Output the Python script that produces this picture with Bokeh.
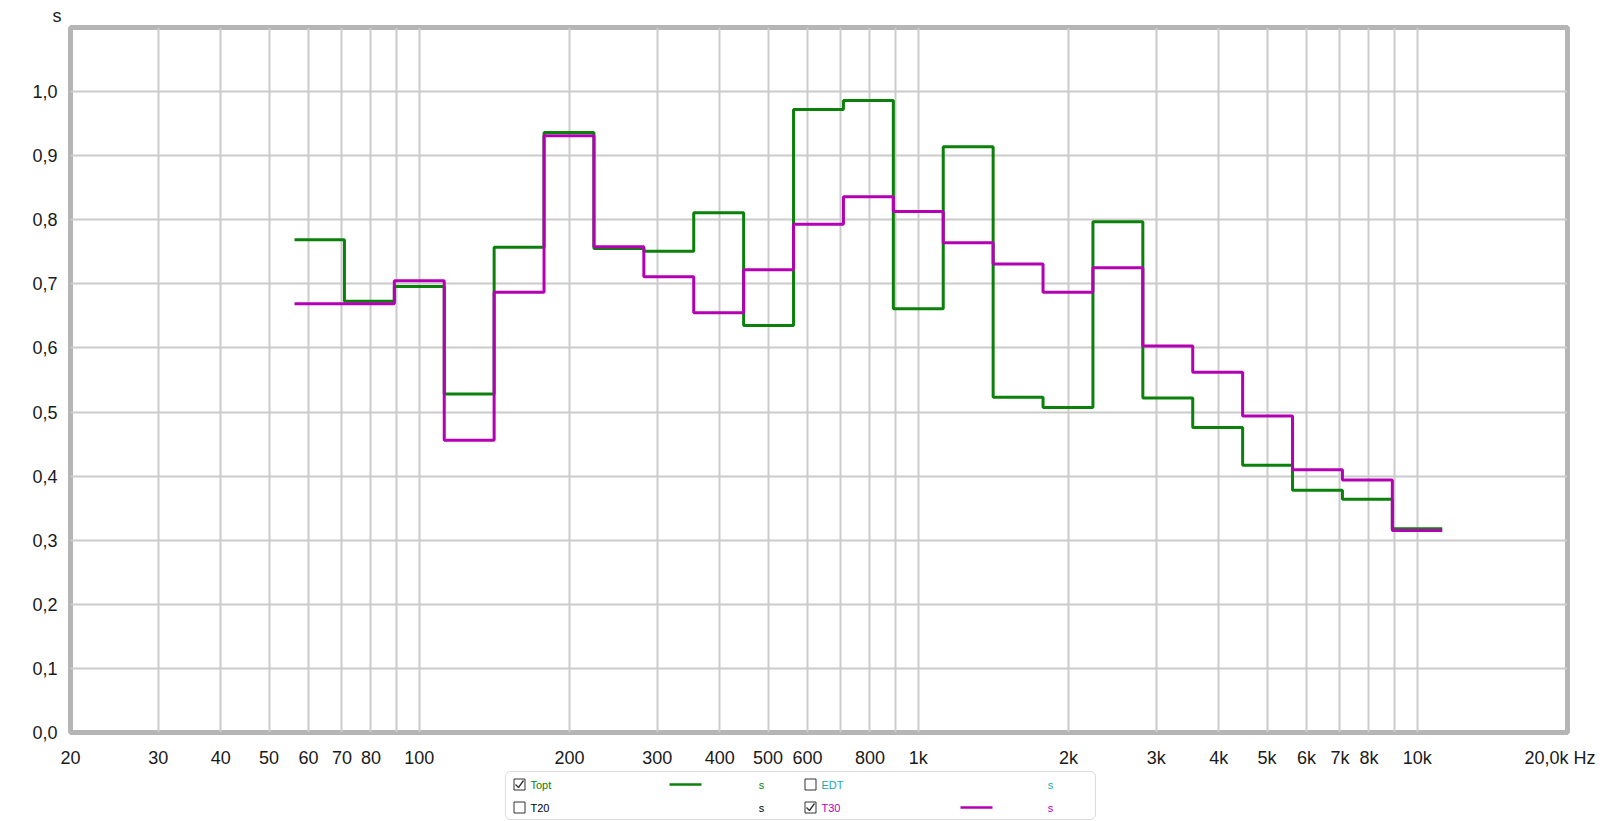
import numpy as np
from bokeh.plotting import figure
from bokeh.models import FixedTicker, Range1d, BoxAnnotation
from bokeh.layouts import column
from bokeh.core.properties import value
from bokeh.embed import file_html
from bokeh.resources import INLINE

# third-octave band centre frequencies (Hz)
band_centers = [63, 80, 100, 125, 160, 200, 250, 315, 400, 500, 630, 800,
                1000, 1250, 1600, 2000, 2500, 3150, 4000, 5000, 6300, 8000, 10000]
# reverberation times (s)
topt = [0.769, 0.673, 0.696, 0.528, 0.757, 0.936, 0.755, 0.751, 0.811, 0.635,
        0.972, 0.986, 0.661, 0.914, 0.523, 0.507, 0.797, 0.522, 0.476, 0.417,
        0.378, 0.364, 0.318]
t30 = [0.669, 0.669, 0.705, 0.456, 0.687, 0.931, 0.758, 0.711, 0.655, 0.722,
       0.793, 0.836, 0.813, 0.764, 0.731, 0.687, 0.725, 0.603, 0.562, 0.494,
       0.410, 0.394, 0.315]

x_grid_freqs = [20, 30, 40, 50, 60, 70, 80, 90, 100, 200, 300, 400, 500, 600, 700, 800, 900,
                1000, 2000, 3000, 4000, 5000, 6000, 7000, 8000, 9000, 10000, 20000]
x_label_freqs = [20, 30, 40, 50, 60, 70, 80, 100, 200, 300, 400, 500, 600, 800,
                 1000, 2000, 3000, 4000, 5000, 6000, 7000, 8000, 10000, 20000]
x_label_texts = ["20", "30", "40", "50", "60", "70", "80", "100", "200", "300", "400", "500",
                 "600", "800", "1k", "2k", "3k", "4k", "5k", "6k", "7k", "8k", "10k",
                 "20,0k Hz" + "\u00a0"]
y_ticks = [0.0, 0.1, 0.2, 0.3, 0.4, 0.5, 0.6, 0.7, 0.8, 0.9, 1.0]
y_tick_labels = ["0,0", "0,1", "0,2", "0,3", "0,4", "0,5", "0,6", "0,7", "0,8", "0,9", "1,0"]
y_unit = "s"

legend_names = ["Topt", "T20", "EDT", "T30"]
legend_checked = [True, False, False, True]
legend_shown_line = [True, False, False, True]

TOPT_COLOR = "#0b800b"
T30_COLOR = "#b400b4"
EDT_COLOR = "#22a9b0"
legend_colors = [TOPT_COLOR, "#000000", EDT_COLOR, T30_COLOR]

FONT = "Liberation Sans"
TEXT_COLOR = "#1a1a1a"


def band_edges(centers):
    idx = [round(10 * np.log10(c / 1000.0)) for c in centers]
    lo = [1000.0 * 10 ** ((n - 0.5) / 10.0) for n in idx]
    return lo + [1000.0 * 10 ** ((idx[-1] + 0.5) / 10.0)]


edges = band_edges(band_centers)

W = 1600
H_MAIN = 770
H_LEG = 821 - H_MAIN
FRAME_L, FRAME_R = 70, 1567

# ---- main chart ----
p = figure(width=W, height=H_MAIN, x_axis_type="log",
           x_range=Range1d(20, 20000), y_range=Range1d(0, 1.1),
           output_backend="svg", toolbar_location=None,
           min_border_left=FRAME_L, min_border_right=W - FRAME_R, min_border_top=27,
           min_border_bottom=H_MAIN - 736)
p.background_fill_color = "white"
p.border_fill_color = "white"
p.outline_line_color = "#b5b5b5"
p.outline_line_width = 5

p.title.text = y_unit
p.title.align = "left"
p.title.vertical_align = "top"
p.title.offset = -18
p.title.standoff = 0
p.title.text_font = FONT
p.title.text_font_size = "18px"
p.title.text_font_style = "normal"
p.title.text_color = TEXT_COLOR

p.xaxis.ticker = FixedTicker(ticks=[float(f) for f in x_grid_freqs])
p.yaxis.ticker = FixedTicker(ticks=y_ticks)
overrides = {float(f): "" for f in x_grid_freqs}
for f, t in zip(x_label_freqs, x_label_texts):
    overrides[float(f)] = t
p.xaxis.major_label_overrides = overrides
p.yaxis.major_label_overrides = {v: t for v, t in zip(y_ticks, y_tick_labels)}

for ax in (p.xaxis[0], p.yaxis[0]):
    ax.axis_line_color = None
    ax.major_tick_line_color = None
    ax.minor_tick_line_color = None
    ax.major_label_text_font = FONT
    ax.major_label_text_font_size = "18px"
    ax.major_label_text_color = TEXT_COLOR
p.xaxis.major_label_standoff = 9
p.yaxis.major_label_standoff = 7

p.xgrid.grid_line_color = "#cbcbcb"
p.ygrid.grid_line_color = "#cbcbcb"
p.xgrid.grid_line_width = 2
p.ygrid.grid_line_width = 2

p.step(edges, topt + [topt[-1]], mode="after", line_color=TOPT_COLOR, line_width=3)
p.step(edges, t30 + [t30[-1]], mode="after", line_color=T30_COLOR, line_width=3)

# ---- legend panel (its frame is aligned with the chart frame by the column layout) ----
leg = figure(width=W, height=H_LEG, x_range=Range1d(FRAME_L, FRAME_R), y_range=Range1d(H_LEG, 0),
             output_backend="svg", toolbar_location=None,
             x_axis_location=None, y_axis_location=None, min_border=0,
             min_border_left=FRAME_L, min_border_right=W - FRAME_R)
leg.xgrid.visible = False
leg.ygrid.visible = False
leg.outline_line_color = None
leg.background_fill_color = "white"
leg.border_fill_color = "white"

leg.add_layout(BoxAnnotation(left=505, right=1095, top=1, bottom=H_LEG - 2,
                             fill_color=None, fill_alpha=0.0,
                             line_color="#8c8c8c", line_width=1, border_radius=5))

col_x = [505, 796]
row_y = [14, 37]
s_offset = [256, 254]
for i, name in enumerate(legend_names):
    c = i // 2
    cx0 = col_x[c]
    cy = row_y[i % 2]
    bx = cx0 + 14
    leg.rect(x=bx, y=cy, width=11, height=11, fill_color="white",
             line_color="#333333", line_width=1)
    if legend_checked[i]:
        leg.line(x=[bx - 4, bx - 1, bx + 4], y=[cy, cy + 3, cy - 4],
                 line_color="#333333", line_width=1.3)
    leg.text(x=[bx + 11], y=[cy], text=[name], text_font=value(FONT),
             text_font_size="11px", text_color=legend_colors[i],
             text_align="left", text_baseline="middle")
    if legend_shown_line[i]:
        lx = cx0 + 164
        leg.line(x=[lx, lx + 32], y=[cy, cy], line_color=legend_colors[i], line_width=2.5)
    leg.text(x=[cx0 + s_offset[c]], y=[cy], text=["s"], text_font=value(FONT),
             text_font_size="11px", text_color=legend_colors[i],
             text_align="center", text_baseline="middle")

layout = column(p, leg, spacing=0)
open("out.html", "w").write(file_html(layout, INLINE))
